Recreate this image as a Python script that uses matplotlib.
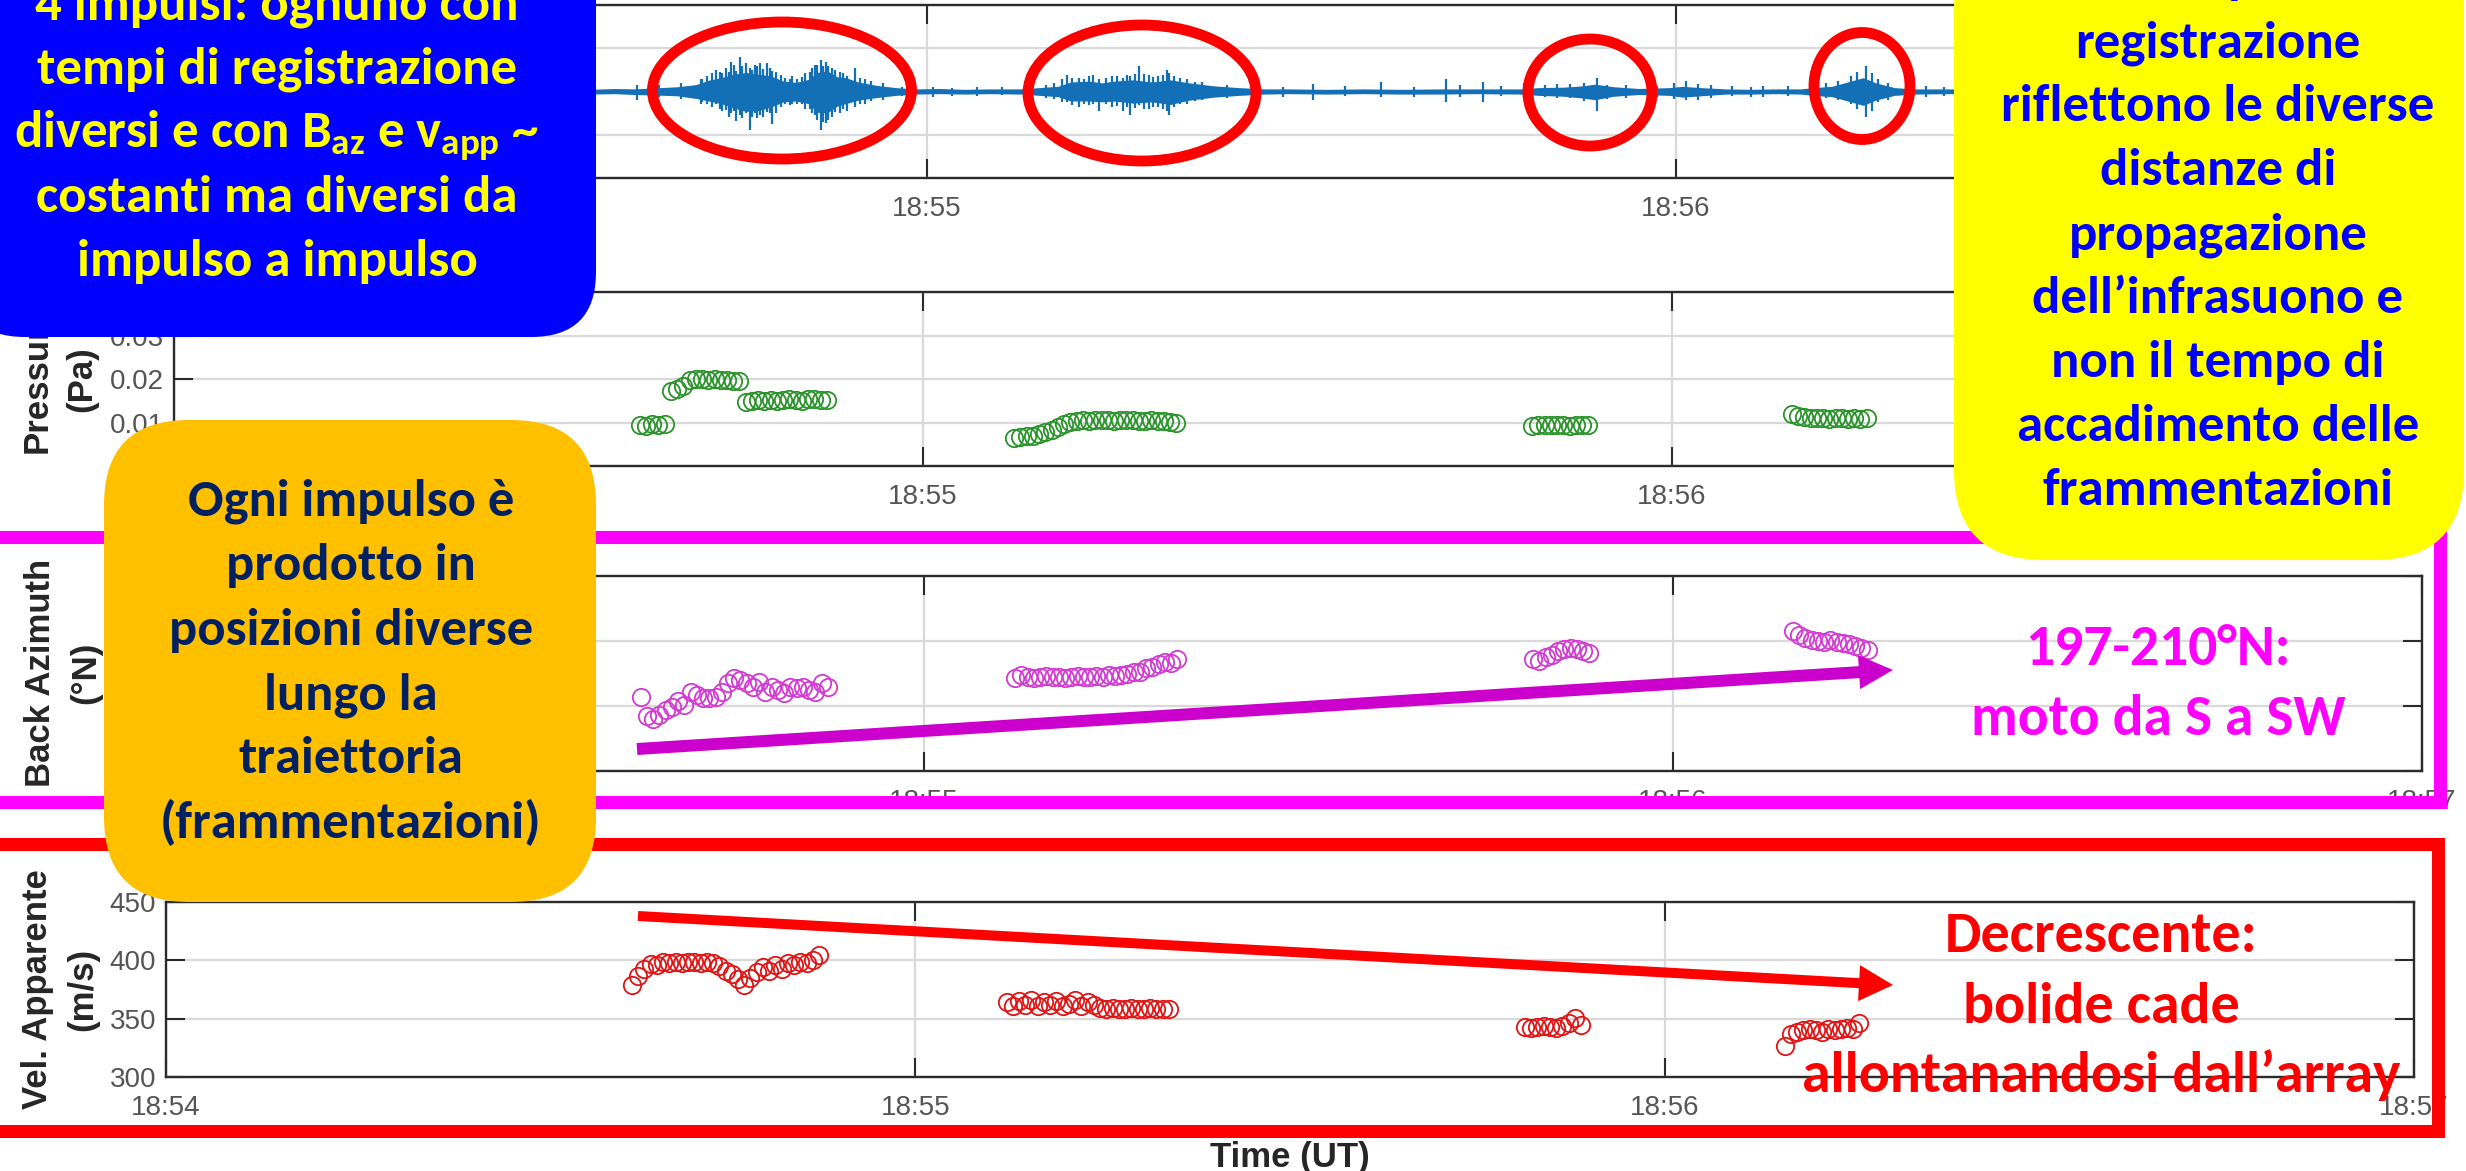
import numpy as np
import matplotlib
matplotlib.use('Agg')
import matplotlib.pyplot as plt
from matplotlib import font_manager as fm
from matplotlib.patches import FancyBboxPatch, Ellipse, Rectangle

# ---------------- data ----------------
tick_sec = [0, 60, 120, 180]
tick_lbl = ['18:54', '18:55', '18:56', '18:57']

# waveform envelope (seconds after 18:54, upper / lower amplitude)
wave_t = [0, 20, 33, 35, 36.5, 38, 40, 41.5, 42.5, 43.5, 44.5, 45.5, 46.5, 47.5, 48.5, 49.5,
          50.5, 51.2, 52.0, 52.8, 53.5, 54.5, 56, 57.5, 59, 61, 63, 65, 67.5, 69, 70.5, 71.5,
          73, 74, 75, 76.5, 78, 79.5, 81, 83, 85, 87, 89, 92, 95, 98, 101, 104, 107.5, 109,
          111, 112.5, 113.5, 115, 117, 119.5, 120.5, 122, 124, 126, 128, 130, 131, 132.5, 134,
          135, 136, 137.5, 139, 142, 150, 180]
wave_hi = [.06, .06, .05, .07, .06, .08, .11, .16, .26, .32, .40, .44, .40, .36, .24, .21,
           .28, .44, .48, .34, .32, .22, .14, .09, .06, .07, .05, .06, .06, .09, .12, .22,
           .24, .20, .24, .27, .22, .27, .20, .13, .09, .06, .06, .05, .06, .05, .06, .06, .06, .09,
           .10, .13, .17, .11, .07, .09, .12, .09, .06, .05, .06, .06, .09, .12, .24,
           .32, .20, .09, .06, .06, .05, .06]
wave_lo = [-.06, -.06, -.06, -.05, -.07, -.08, -.10, -.16, -.22, -.28, -.38, -.46, -.44, -.36, -.24, -.22,
           -.28, -.48, -.50, -.34, -.28, -.20, -.14, -.09, -.06, -.05, -.06, -.05, -.06, -.09, -.12, -.22,
           -.22, -.24, -.22, -.27, -.24, -.30, -.20, -.13, -.09, -.06, -.05, -.06, -.05, -.06, -.06, -.05, -.06, -.09,
           -.11, -.15, -.19, -.11, -.07, -.09, -.13, -.10, -.06, -.06, -.05, -.06, -.09, -.12, -.24,
           -.32, -.20, -.09, -.06, -.05, -.06, -.06]

spike_t = [36.8, 38.5, 40.3, 41.9, 43.1, 43.6, 44.3, 44.7, 45.0, 45.8, 46.2, 46.6, 47.2, 47.6,
           48.3, 49.2, 50.2, 51.0, 51.5, 51.9, 52.4, 53.0, 54.2, 55.0, 56.5, 60.5, 64.0,
           69.5, 71.2, 72.2, 73.3, 73.8, 74.8, 75.7, 76.3, 77.0, 77.8, 78.5, 79.2, 79.4, 80.3,
           82.0, 84.0, 90.9, 96.4, 101.6, 104.5, 107.8, 110.5, 113.7, 116.0, 119.8, 120.8,
           121.8, 124.5, 127.0, 131.1, 133.0, 134.5, 135.2, 135.7, 137.0, 140.0,
           42.0, 42.4, 42.8, 43.4, 43.9, 44.1, 44.5, 45.2, 45.5, 46.0, 46.4, 46.9, 47.4, 47.9,
           48.6, 49.0, 49.6, 50.0, 50.6, 50.8, 51.2, 51.7, 52.1, 52.6, 53.3, 53.6, 54.6, 55.5,
           70.2, 70.8, 71.6, 72.6, 73.0, 74.3, 75.2, 76.0, 76.7, 77.4, 78.1, 78.9, 79.8, 80.8, 81.5,
           58.0, 62.0, 66.0, 86.0, 88.5, 93.5, 99.0, 102.7, 106.0, 109.5, 111.5, 112.6, 114.5,
           118.5, 122.8, 126.0, 129.0, 132.0, 134.0, 136.2, 138.5, 141.5]
spike_hi = [.15, .15, .20, .30, .50, .42, .69, .48, .80, .55, .62, .66, .66, .48,
            .38, .35, .42, .62, .73, .68, .55, .45, .55, .30, .20, .10, .10,
            .15, .38, .32, .38, .30, .35, .32, .36, .60, .38, .35, .50, .42, .32,
            .22, .15, .18, .22, .28, .22, .20, .18, .31, .15, .20, .25,
            .18, .12, .12, .30, .25, .45, .58, .42, .20, .12,
            .30, .35, .42, .45, .55, .45, .62, .60, .65, .50, .58, .52, .55, .45,
            .32, .30, .30, .33, .45, .55, .62, .60, .60, .50, .42, .35, .32, .25,
            .20, .28, .32, .30, .35, .32, .35, .38, .40, .40, .33, .38, .35, .28, .22,
            .10, .09, .10, .12, .10, .12, .10, .15, .12, .15, .18, .20, .16,
            .12, .16, .10, .12, .20, .35, .30, .12, .10]
spike_lo = [-.20, -.12, -.18, -.28, -.30, -.45, -.50, -.69, -.55, -.88, -.50, -.55, -.48, -.75,
            -.35, -.30, -.40, -.55, -.88, -.72, -.60, -.50, -.35, -.28, -.20, -.12, -.10,
            -.14, -.25, -.35, -.30, -.45, -.35, -.45, -.55, -.32, -.40, -.35, -.45, -.55, -.30,
            -.20, -.15, -.20, -.12, -.25, -.25, -.15, -.15, -.46, -.15, -.18, -.20,
            -.20, -.10, -.12, -.15, -.20, -.40, -.58, -.45, -.20, -.12,
            -.25, -.30, -.35, -.40, -.42, -.60, -.45, -.62, -.50, -.60, -.62, -.58, -.50, -.50,
            -.30, -.32, -.28, -.30, -.40, -.50, -.66, -.70, -.65, -.48, -.40, -.45, -.30, -.22,
            -.18, -.25, -.32, -.30, -.32, -.30, -.33, -.36, -.38, -.40, -.36, -.40, -.35, -.28, -.22,
            -.10, -.10, -.09, -.10, -.12, -.10, -.12, -.12, -.10, -.13, -.16, -.22, -.18,
            -.12, -.14, -.12, -.10, -.15, -.30, -.25, -.12, -.10]

# detection times (seconds after 18:54) for the four impulses
t_g1 = [37.3, 37.8, 38.3, 38.8, 39.3, 39.8, 40.3, 40.8, 41.3, 41.8, 42.3, 42.8, 43.3, 43.8, 44.3,
        44.8, 45.3, 45.8, 46.3, 46.8, 47.3, 47.8, 48.3, 48.8, 49.3, 49.8, 50.3, 50.8, 51.3, 51.8, 52.3]
t_g2 = [67.3, 67.8, 68.3, 68.8, 69.3, 69.8, 70.3, 70.8, 71.3, 71.8, 72.3, 72.8, 73.3, 73.8,
        74.3, 74.8, 75.3, 75.8, 76.3, 76.8, 77.3, 77.8, 78.3, 78.8, 79.3, 79.8, 80.3]
t_g3 = [108.8, 109.3, 109.8, 110.3, 110.8, 111.3, 111.8, 112.3, 112.8, 113.3]
t_g4 = [129.6, 130.1, 130.6, 131.1, 131.6, 132.1, 132.6, 133.1, 133.6, 134.1, 134.6, 135.1, 135.6]

# pressure (Pa)
p_g1 = [0.0095, 0.0093, 0.0096, 0.0094, 0.0097, 0.0172, 0.0178, 0.0185, 0.0197, 0.0199, 0.0200,
        0.0198, 0.0199, 0.0197, 0.0198, 0.0196, 0.0195, 0.0147, 0.0149, 0.0151, 0.0150, 0.0152,
        0.0150, 0.0151, 0.0153, 0.0152, 0.0150, 0.0153, 0.0154, 0.0152, 0.0151]
p_g2 = [0.0065, 0.0067, 0.0068, 0.0070, 0.0073, 0.0078, 0.0083, 0.0090, 0.0097, 0.0102, 0.0104,
        0.0105, 0.0104, 0.0105, 0.0106, 0.0105, 0.0104, 0.0105, 0.0106, 0.0105, 0.0104, 0.0104,
        0.0105, 0.0104, 0.0103, 0.0102, 0.0099]
p_g3 = [0.0093, 0.0094, 0.0095, 0.0094, 0.0095, 0.0094, 0.0093, 0.0094, 0.0095, 0.0094]
p_g4 = [0.0120, 0.0116, 0.0112, 0.0111, 0.0110, 0.0110, 0.0109, 0.0110, 0.0110, 0.0109, 0.0110,
        0.0109, 0.0110]

# back azimuth (deg N)
ba_g1 = [201.4, 198.4, 198.0, 198.6, 199.4, 199.9, 200.7, 200.2, 202.2, 201.7, 201.2, 201.2, 201.4,
         202.2, 203.5, 204.3, 204.0, 203.5, 203.0, 203.7, 202.2, 203.0, 202.5, 202.0, 203.0, 202.8,
         203.0, 202.5, 202.2, 203.5, 203.0]
ba_g2 = [204.3, 204.8, 204.5, 204.3, 204.5, 204.6, 204.4, 204.5, 204.3, 204.5, 204.6, 204.4, 204.5,
         204.6, 204.5, 204.7, 204.6, 204.8, 205.0, 205.2, 205.3, 205.8, 206.0, 206.4, 206.8, 206.6, 207.3]
ba_g3 = [207.3, 207.0, 207.6, 207.9, 208.4, 208.8, 209.0, 208.8, 208.5, 208.2]
ba_g4 = [211.6, 211.0, 210.5, 210.2, 210.0, 209.8, 210.1, 209.9, 209.7, 209.5, 209.2, 209.0, 208.6]

# apparent velocity (m/s)
v_g1 = [379, 387, 393, 397, 396, 399, 398, 399, 398, 399, 399, 398, 399, 398, 395, 391, 388, 384,
        379, 385, 390, 394, 391, 396, 393, 398, 396, 399, 398, 400, 405]
v_g2 = [364, 361, 365, 362, 366, 361, 364, 362, 365, 361, 363, 366, 361, 364, 362, 359, 358, 359,
        358, 358, 359, 358, 358, 359, 358, 358, 358]
v_g3 = [343, 342, 343, 344, 343, 342, 344, 346, 351, 345]
v_g4 = [327, 337, 339, 340, 341, 340, 339, 341, 340, 341, 342, 341, 346]

# ---------------- fonts ----------------
def _is_bold(w):
    try:
        return int(w) >= 600
    except Exception:
        return str(w).lower() in ('bold', 'heavy', 'black', 'extra bold', 'semibold', 'demibold')


def choose_ann_font():
    ents = fm.fontManager.ttflist
    names = {f.name for f in ents}
    for c in ['Carlito', 'Calibri']:
        if c in names:
            return c, 'normal'
    for fam in ['Noto Sans', 'Open Sans', 'Roboto']:
        for st in ['semi-condensed', 'condensed']:
            for f in ents:
                if f.name == fam and f.stretch == st and _is_bold(f.weight):
                    return fam, st
    for c in ['Liberation Sans Narrow', 'Noto Sans SemiCondensed', 'Noto Sans Condensed',
              'Roboto Condensed', 'Open Sans SemiCondensed', 'Open Sans Condensed']:
        if c in names:
            return c, 'normal'
    return 'Lato', 'normal'

ann_font, ann_stretch = choose_ann_font()
plt.rcParams['font.family'] = ['Liberation Sans', 'DejaVu Sans']
plt.rcParams['mathtext.fontset'] = 'custom'
_pat = ann_font + ':bold' + ('' if ann_stretch == 'normal' else ':' + ann_stretch)
plt.rcParams['mathtext.rm'] = _pat
plt.rcParams['mathtext.it'] = _pat
plt.rcParams['mathtext.bf'] = _pat

W, H = 2466, 1171
fig = plt.figure(figsize=(W / 100, H / 100), dpi=100)
fig.patch.set_facecolor('white')

SPINE = '#2b2b2b'
TICKC = '#555555'


def make_ax(l, t, r, b):
    ax = fig.add_axes([l / W, 1 - b / H, (r - l) / W, (b - t) / H])
    ax.set_xlim(0, 180)
    ax.set_xticks(tick_sec)
    ax.set_xticklabels(tick_lbl)
    ax.grid(True, color='#d9d9d9', lw=1.6)
    ax.set_axisbelow(True)
    for s in ax.spines.values():
        s.set_color(SPINE)
        s.set_linewidth(1.7)
    ax.tick_params(direction='in', length=14, width=1.5, color=SPINE, top=True, right=True,
                   labelsize=20, labelcolor=TICKC)
    ax.tick_params(axis='x', pad=13)
    ax.tick_params(axis='y', pad=7)
    return ax

LABC = '#262626'
MS = 12.5
MEW = 1.3

# top: waveform
ax1 = make_ax(178, 5, 2425, 178)
ax1.set_ylim(-2, 2)
ax1.set_yticks([-2, -1, 0, 1, 2])
WBLUE = '#1470b6'
ax1.fill_between(wave_t, wave_lo, wave_hi, color=WBLUE, lw=0)
ax1.vlines(spike_t, spike_lo, spike_hi, color=WBLUE, lw=1.6)

# pressure
ax2 = make_ax(174, 292, 2421, 466)
ax2.set_ylim(0, 0.04)
ax2.set_yticks([0, 0.01, 0.02, 0.03, 0.04])
ax2.set_yticklabels(['0', '0.01', '0.02', '0.03', '0.04'])
GREEN = '#2a932a'
for tt, vv in [(t_g1, p_g1), (t_g2, p_g2), (t_g3, p_g3), (t_g4, p_g4)]:
    ax2.plot(tt, vv, 'o', mfc='none', mec=GREEN, ms=MS, mew=MEW)

# back azimuth
ax3 = make_ax(175, 576, 2422, 771)
ax3.set_ylim(190, 220)
ax3.set_yticks([190, 200, 210, 220])
MAG = '#d23ad2'
for tt, vv in [(t_g1, ba_g1), (t_g2, ba_g2), (t_g3, ba_g3), (t_g4, ba_g4)]:
    ax3.plot(tt, vv, 'o', mfc='none', mec=MAG, ms=MS, mew=MEW)

# apparent velocity
ax4 = make_ax(166, 902, 2414, 1077)
ax4.set_ylim(300, 450)
ax4.set_yticks([300, 350, 400, 450])
RED = '#e01414'
for tt, vv in [(t_g1, v_g1), (t_g2, v_g2), (t_g3, v_g3), (t_g4, v_g4)]:
    ax4.plot(tt, vv, 'o', mfc='none', mec=RED, ms=MS, mew=MEW)

# overlay in pixel coordinates
ov = fig.add_axes([0, 0, 1, 1], zorder=10)
ov.set_xlim(0, W)
ov.set_ylim(H, 0)
ov.axis('off')
ov.patch.set_alpha(0)

# axis labels
for ax, txt, (lx, ly) in [(ax2, 'Pressure\n(Pa)', (59, 379)),
                          (ax3, 'Back Azimuth\n(°N)', (63, 673)),
                          (ax4, 'Vel. Apparente\n(m/s)', (60, 989))]:
    ax.set_ylabel(txt, fontsize=25, fontweight='bold', color=LABC, linespacing=1.45)
    ax.yaxis.set_label_coords(lx, ly, transform=ov.transData)
    ax.yaxis.label.set_va('center')
    ax.yaxis.label.set_ha('center')
ax4.set_xlabel('Time (UT)', fontsize=25, fontweight='bold', color=LABC)
ax4.xaxis.set_label_coords(1290, 1157, transform=ov.transData)
ax4.xaxis.label.set_va('center')

# borders
ov.add_patch(Rectangle((-10, 536.5), 2449.5, 265, fill=False, ec='#FF00FF', lw=9.4, zorder=1))
ov.add_patch(Rectangle((-4, 843.5), 2442, 287, fill=False, ec='#FF0000', lw=9.4, zorder=1))

# ellipses around impulses
for cx, cy, ew, eh in [(782, 90.5, 259, 137), (1142, 93, 228, 136),
                       (1590, 92.5, 124, 107), (1862, 86, 96, 107)]:
    ov.add_patch(Ellipse((cx, cy), ew, eh, fill=False, ec='#FF0000', lw=7.8, zorder=2))

# arrows
ov.arrow(637, 749, 1893 - 637, 670 - 749, width=12, head_width=34, head_length=34,
         length_includes_head=True, color='#CC00CC', lw=0, zorder=3)
ov.arrow(638, 916, 1893 - 638, 985 - 916, width=10, head_width=36, head_length=34,
         length_includes_head=True, color='#FF0000', lw=0, zorder=3)

# boxes
ov.add_patch(FancyBboxPatch((-40, -80), 636, 417, boxstyle='round,pad=0,rounding_size=65',
                            fc='#0000FF', ec='none', zorder=4))
ov.add_patch(FancyBboxPatch((104, 420), 492, 482, boxstyle='round,pad=0,rounding_size=85',
                            fc='#FFC000', ec='none', zorder=4))
ov.add_patch(FancyBboxPatch((1954, -80), 510, 640, boxstyle='round,pad=0,rounding_size=90',
                            fc='#FFFF00', ec='none', zorder=4))

renderer = fig.canvas.get_renderer()


def fit_size(s, target):
    t = ov.text(0, 0, s, fontsize=40, fontweight='bold', family=ann_font, fontstretch=ann_stretch)
    w = t.get_window_extent(renderer=renderer).width
    t.remove()
    return 40.0 * target / w


def put_lines(lines, bases, cx, color, size):
    for s, b in zip(lines, bases):
        ov.text(cx, b, s, ha='center', va='baseline', fontsize=size, fontweight='bold',
                family=ann_font, fontstretch=ann_stretch, color=color, zorder=6)

blue_lines = ['4 impulsi: ognuno con', 'tempi di registrazione',
              r'diversi e con $B_{az}$ e $v_{app}$ ~', 'costanti ma diversi da', 'impulso a impulso']
put_lines(blue_lines, [20, 84, 148, 212, 276], 277, '#FFFF00',
          fit_size('tempi di registrazione', 479))

orange_lines = ['Ogni impulso è', 'prodotto in', 'posizioni diverse', 'lungo la', 'traiettoria',
                '(frammentazioni)']
put_lines(orange_lines, [515, 580, 645, 709, 773, 838], 351, '#002060',
          fit_size('posizioni diverse', 364))

yellow_lines = ['I tempi di', 'registrazione', 'riflettono le diverse', 'distanze di', 'propagazione',
                'dell’infrasuono e', 'non il tempo di', 'accadimento delle', 'frammentazioni']
put_lines(yellow_lines, [-7, 57, 121, 185, 249, 313, 377, 441, 505], 2218, '#0000FF',
          fit_size('riflettono le diverse', 432))

put_lines(['197-210°N:', 'moto da S a SW'], [665, 735], 2158, '#FF00FF',
          fit_size('moto da S a SW', 374))

put_lines(['Decrescente:', 'bolide cade', 'allontanandosi dall’array'], [952, 1023, 1092], 2101,
          '#FF0000', fit_size('allontanandosi dall’array', 599))

fig.savefig('out.png', dpi=100, facecolor='white')
